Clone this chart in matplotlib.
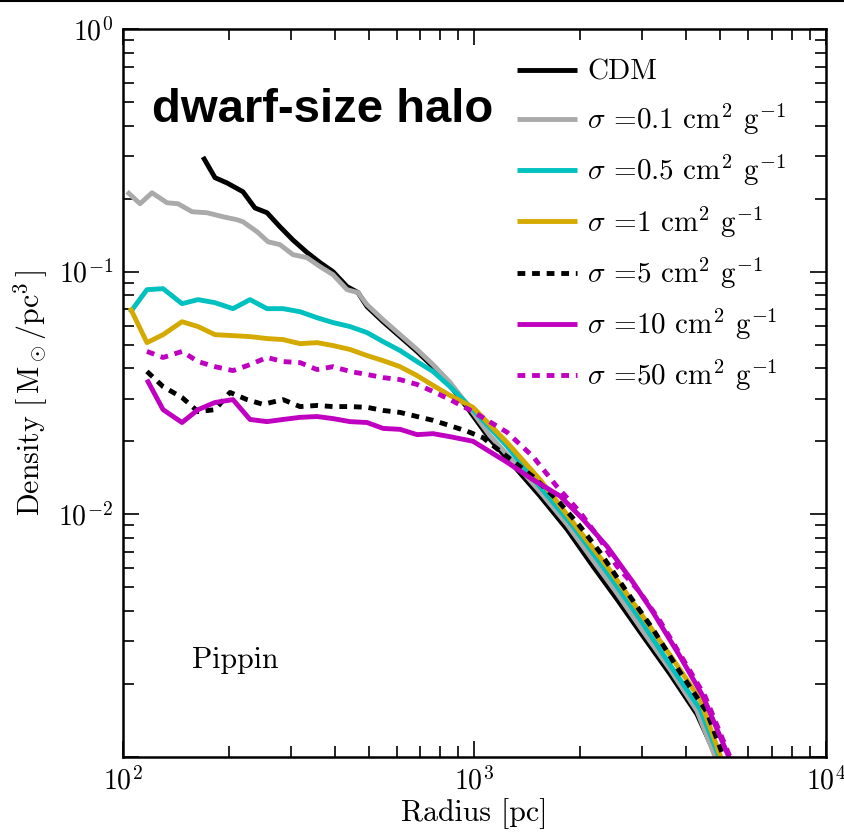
"""Density profiles of the dwarf-size halo (Pippin), CDM vs SIDM cross sections."""

import matplotlib

matplotlib.use("Agg")
import matplotlib.pyplot as plt
from matplotlib.lines import Line2D

plt.rcParams.update({
    "font.family": "serif",
    "font.serif": ["cmr10"],
    "mathtext.fontset": "cm",
    "axes.formatter.use_mathtext": True,
    "axes.unicode_minus": False,
})

# radius [pc] and density [Msun/pc^3]
r_cdm = [168.9, 182.7, 197.7, 219.4, 237.4, 256.8, 279.7, 304.5, 333.8, 363.5, 395.8,
         433.9, 466.3, 494.6, 549.3, 614.1, 686.2, 762.0, 851.6, 952.1, 1107, 1321,
         1536, 1833, 2173, 2543, 3015, 3598, 4295, 5060]
rho_cdm = [0.297, 0.244, 0.232, 0.2135, 0.183, 0.175, 0.153, 0.135, 0.120, 0.109, 0.100,
           0.0868, 0.0820, 0.0718, 0.0622, 0.0540, 0.0469, 0.0406, 0.0340, 0.0276, 0.0204,
           0.0153, 0.0119, 0.00868, 0.00611, 0.00447, 0.00315, 0.00220, 0.00150, 0.000892]

r_s01 = [102.7, 111.8, 120.9, 133.4, 143.4, 157.2, 173.4, 192.5, 211.1, 219.4, 240.6,
         258.6, 279.7, 304.5, 333.8, 363.5, 395.8, 433.9, 466.3, 494.6, 549.3, 614.1,
         686.2, 762.0, 851.6, 952.1, 1107, 1321, 1536, 1833, 2173, 2543, 3015, 3598,
         4295, 4993]
rho_s01 = [0.2135, 0.1905, 0.2114, 0.1923, 0.1905, 0.1766, 0.1749, 0.1684, 0.1637, 0.1606,
           0.1461, 0.1328, 0.1292, 0.1175, 0.1142, 0.1049, 0.0972, 0.0843, 0.0820, 0.0731,
           0.0634, 0.0550, 0.0478, 0.0414, 0.0350, 0.0284, 0.0211, 0.0159, 0.0124, 0.00910,
           0.00647, 0.00473, 0.00330, 0.00230, 0.00155, 0.000892]

r_s05 = [104.7, 117.0, 130.0, 147.2, 163.5, 182.7, 205.5, 229.8, 256.8, 285.3, 318.9,
         356.4, 395.8, 442.4, 494.6, 549.3, 614.1, 686.2, 762.0, 851.6, 990.2, 1237,
         1536, 1906, 2382, 2956, 3669, 4380, 5127]
rho_s05 = [0.0678, 0.0843, 0.0851, 0.0738, 0.0767, 0.0745, 0.0704, 0.0767, 0.0704, 0.0704,
           0.0684, 0.0646, 0.0617, 0.0594, 0.0561, 0.0515, 0.0473, 0.0426, 0.0388, 0.0336,
           0.0270, 0.0191, 0.0130, 0.00893, 0.00577, 0.00370, 0.00230, 0.00158, 0.000892]

r_s1 = [104.7, 117.0, 130.0, 147.2, 163.5, 182.7, 205.5, 229.8, 256.8, 285.3, 318.9,
        356.4, 395.8, 442.4, 494.6, 549.3, 614.1, 686.2, 762.0, 851.6, 990.2, 1237,
        1536, 1906, 2382, 2956, 3669, 4380, 5162]
rho_s1 = [0.0711, 0.0510, 0.0550, 0.0622, 0.0594, 0.0550, 0.0545, 0.0540, 0.0530, 0.0525,
          0.0505, 0.0510, 0.0496, 0.0478, 0.0451, 0.0430, 0.0406, 0.0373, 0.0340, 0.0309,
          0.0276, 0.0198, 0.0139, 0.00927, 0.00611, 0.00395, 0.00253, 0.00173, 0.000892]

r_s5 = [117.0, 130.0, 147.2, 163.5, 182.7, 201.6, 225.3, 250.2, 285.3, 318.9, 356.4,
        395.8, 442.4, 494.6, 549.3, 614.1, 686.2, 762.0, 851.6, 952.1, 1057, 1237,
        1467, 1717, 1996, 2275, 2716, 3220, 3842, 4586, 5264]
rho_s5 = [0.0388, 0.0336, 0.0303, 0.0265, 0.0270, 0.0318, 0.0297, 0.0284, 0.0297, 0.0278,
          0.0281, 0.0278, 0.0278, 0.0276, 0.0268, 0.0263, 0.0253, 0.0244, 0.0232, 0.0220,
          0.0207, 0.0173, 0.0143, 0.0115, 0.00893, 0.00698, 0.00478, 0.00336, 0.00224,
          0.00153, 0.000892]

r_s10 = [117.0, 130.0, 147.2, 163.5, 182.7, 205.5, 229.8, 256.8, 285.3, 318.9, 356.4,
         395.8, 442.4, 494.6, 549.3, 614.1, 686.2, 762.0, 851.6, 990.2, 1237, 1467,
         1751, 2036, 2382, 2824, 3220, 3842, 4468, 5473]
rho_s10 = [0.0359, 0.0270, 0.0239, 0.0270, 0.0289, 0.0297, 0.0246, 0.0241, 0.0246, 0.0251,
           0.0253, 0.0248, 0.0241, 0.0239, 0.0226, 0.0224, 0.0213, 0.0215, 0.0209, 0.0200,
           0.0164, 0.0139, 0.0119, 0.00954, 0.00738, 0.00525, 0.00395, 0.00260, 0.00178,
           0.000892]

r_s50 = [117.0, 130.0, 147.2, 163.5, 182.7, 205.5, 229.8, 256.8, 285.3, 318.9, 356.4,
         395.8, 442.4, 494.6, 549.3, 614.1, 686.2, 762.0, 851.6, 990.2, 1237, 1467,
         1717, 1996, 2275, 2543, 2956, 3371, 3919, 4527, 5509]
rho_s50 = [0.0469, 0.0443, 0.0469, 0.0426, 0.0406, 0.0391, 0.0414, 0.0443, 0.0426, 0.0422,
           0.0395, 0.0406, 0.0388, 0.0377, 0.0366, 0.0359, 0.0343, 0.0321, 0.0297, 0.0265,
           0.0218, 0.0173, 0.0130, 0.0102, 0.00789, 0.00611, 0.00478, 0.00363, 0.00253,
           0.00178, 0.000892]

labels = ["CDM",
          r"$\sigma$ =0.1 cm$^2$ g$^{-1}$",
          r"$\sigma$ =0.5 cm$^2$ g$^{-1}$",
          r"$\sigma$ =1 cm$^2$ g$^{-1}$",
          r"$\sigma$ =5 cm$^2$ g$^{-1}$",
          r"$\sigma$ =10 cm$^2$ g$^{-1}$",
          r"$\sigma$ =50 cm$^2$ g$^{-1}$"]

DOT = (0, (1.6, 1.4))
styles = [("black", "-"), ("#aaaaaa", "-"), ("#00c0c0", "-"), ("#d4aa00", "-"),
          ("black", DOT), ("#c000c0", "-"), ("#c000c0", DOT)]
curves = [(r_cdm, rho_cdm), (r_s01, rho_s01), (r_s05, rho_s05), (r_s1, rho_s1),
          (r_s5, rho_s5), (r_s10, rho_s10), (r_s50, rho_s50)]

fig = plt.figure(figsize=(8.45, 8.33), dpi=100)
ax = fig.add_axes([123 / 845, 76 / 833, 703 / 845, 728 / 833])

for (r, rho), (c, ls), lab in zip(curves, styles, labels):
    ax.plot(r, rho, color=c, ls=ls, lw=3.5, label=lab, solid_capstyle="butt")

ax.set_xscale("log")
ax.set_yscale("log")
ax.set_xlim(1e2, 1e4)
ax.set_ylim(1e-3, 1)
ax.set_yticks([1e-3, 1e-2, 1e-1, 1], ["", r"$10^{-2}$", r"$10^{-1}$", r"$10^{0}$"])
ax.set_xticks([1e2, 1e3, 1e4], [r"$10^{2}$", r"$10^{3}$", r"$10^{4}$"])
ax.tick_params(which="both", direction="in", top=True, right=True, labelsize=20)
ax.tick_params(which="major", length=11.5, width=1.2, pad=7)
ax.tick_params(which="minor", length=8, width=1.2)
for s in ax.spines.values():
    s.set_linewidth(1.8)

ax.set_xlabel("Radius [pc]", fontsize=21.5, labelpad=2)
ax.set_ylabel(r"Density $[\,\mathrm{M_\odot/pc^3}\,]$", fontsize=21.5, labelpad=6)

ax.legend(loc="upper left", bbox_to_anchor=(0.5605, 0.958), frameon=False, fontsize=21,
          borderpad=0, borderaxespad=0, handlelength=2.05, handletextpad=0.35,
          labelspacing=0.55)

ax.text(0.098, 0.133, "Pippin", transform=ax.transAxes, fontsize=21.5, ha="left",
        va="center")

fig.text(152 / 845, 1 - 122 / 833, "dwarf-size halo", family="Liberation Sans",
         weight="bold", fontsize=34, ha="left", va="baseline")
fig.add_artist(Line2D([0, 1], [0.999, 0.999], transform=fig.transFigure, color="black",
                      lw=1.5))

fig.savefig("out.png", dpi=100)
